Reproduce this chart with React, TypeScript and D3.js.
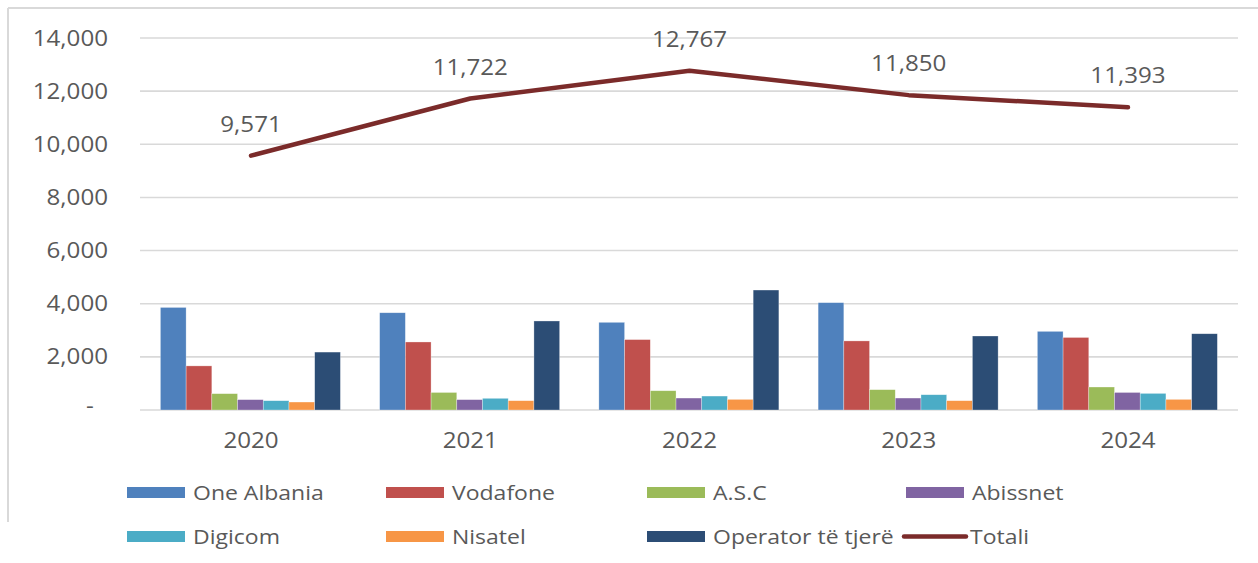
import React from "react";
import * as d3 from "d3";

const years = ["2020", "2021", "2022", "2023", "2024"];
const seriesNames = ["One Albania", "Vodafone", "A.S.C", "Abissnet", "Digicom", "Nisatel", "Operator të tjerë"];
const oneAlbania = [3860, 3660, 3300, 4040, 2960];
const vodafone = [1660, 2560, 2650, 2600, 2730];
const asc = [615, 660, 725, 765, 865];
const abissnet = [390, 390, 450, 450, 660];
const digicom = [350, 440, 525, 575, 625];
const nisatel = [300, 350, 400, 350, 400];
const operatorTjere = [2180, 3350, 4515, 2785, 2870];
const totali = [9571, 11722, 12767, 11850, 11393];
const yTicks = [0, 2000, 4000, 6000, 8000, 10000, 12000, 14000];

const seriesValues = [oneAlbania, vodafone, asc, abissnet, digicom, nisatel, operatorTjere];
const colors = ["#4f81bd", "#c0504d", "#9bbb59", "#8064a2", "#4bacc6", "#f79646", "#2c4d75"];
const lineColor = "#7b2b2a";
const textColor = "#595959";
const FONT = "'Open Sans', sans-serif";
const SX = 1.15;

const W = 1258;
const H = 563;

export default function App() {
  const x0 = d3.scaleBand<string>().domain(years).range([141.4, 1237.6]).padding(0);
  const x1 = d3.scaleBand<string>().domain(seriesNames).range([19, 199]).padding(0);
  const y = d3.scaleLinear().domain([0, 14000]).range([410, 38]);
  const fmt = d3.format(",");
  const cx = (yr: string) => (x0(yr) as number) + x0.bandwidth() / 2;

  const line = d3
    .line<number>()
    .x((_, i) => cx(years[i]))
    .y((d) => y(d));

  const T = (props: { x: number; y: number; anchor: string; size: number; children: React.ReactNode }) => (
    <text
      transform={`translate(${props.x},${props.y}) scale(${SX},1)`}
      textAnchor={props.anchor}
      fontSize={props.size}
      fontFamily={FONT}
      fill={textColor}
    >
      {props.children}
    </text>
  );

  const legendCols = [127, 386, 647, 906];
  const legendRows = [492.5, 536.5];
  const legendItems = [...seriesNames, "Totali"];

  return (
    <svg
      width={W}
      height={H}
      style={{ position: "absolute", left: 0, top: 0, background: "#fff" }}
    >
      {/* frame */}
      <line x1={8} y1={8} x2={W} y2={8} stroke="#d9d9d9" strokeWidth={2} />
      <line x1={8} y1={8} x2={8} y2={522} stroke="#d9d9d9" strokeWidth={2} />

      {/* gridlines */}
      {yTicks.map((t) => (
        <line key={t} x1={140} x2={1238} y1={y(t)} y2={y(t)} stroke="#d9d9d9" strokeWidth={1.6} />
      ))}
      {/* y tick labels */}
      {yTicks.map((t) =>
        t === 0 ? (
          <T key={t} x={90} y={y(t) + 3} anchor="middle" size={21}>
            -
          </T>
        ) : (
          <T key={t} x={108} y={y(t) + 7.5} anchor="end" size={21}>
            {fmt(t)}
          </T>
        )
      )}

      {/* bars */}
      {years.map((yr, i) => (
        <g key={yr} transform={`translate(${x0(yr)},0)`}>
          {seriesNames.map((s, j) => (
            <rect
              key={s}
              x={x1(s)}
              y={y(seriesValues[j][i])}
              width={x1.bandwidth()}
              height={y(0) - y(seriesValues[j][i])}
              fill={colors[j]}
              stroke="#ffffff"
              strokeOpacity={0.5}
              strokeWidth={0.6}
            />
          ))}
        </g>
      ))}

      {/* x labels */}
      {years.map((yr) => (
        <T key={yr} x={cx(yr)} y={447.5} anchor="middle" size={21}>
          {yr}
        </T>
      ))}

      {/* total line */}
      <path d={line(totali) || ""} fill="none" stroke={lineColor} strokeWidth={4.5} strokeLinecap="round" strokeLinejoin="round" />
      {totali.map((v, i) => (
        <T key={i} x={cx(years[i])} y={y(v) - 24} anchor="middle" size={21}>
          {fmt(v)}
        </T>
      ))}

      {/* legend */}
      {legendItems.map((name, k) => {
        const col = k % 4;
        const row = Math.floor(k / 4);
        const lx = legendCols[col];
        const ly = legendRows[row];
        const isLine = name === "Totali";
        return (
          <g key={name}>
            {isLine ? (
              <line x1={lx - 2} x2={lx + 60} y1={ly} y2={ly} stroke={lineColor} strokeWidth={4.5} strokeLinecap="round" />
            ) : (
              <rect x={lx} y={ly - 5.5} width={58} height={11} fill={colors[k]} />
            )}
            <T x={isLine ? lx + 64 : lx + 66} y={ly + 7.5} anchor="start" size={20}>
              {name}
            </T>
          </g>
        );
      })}
    </svg>
  );
}
